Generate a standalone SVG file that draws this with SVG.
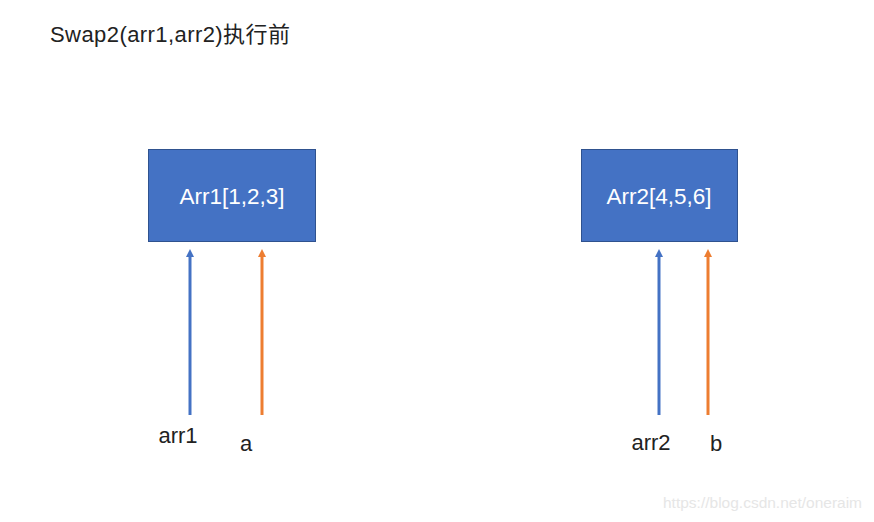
<svg xmlns="http://www.w3.org/2000/svg" width="874" height="522" viewBox="0 0 874 522">
<style>
.box{fill:#4472C4;stroke:#2F528F;stroke-width:1}
.bt{font-family:"Liberation Sans","Noto Sans CJK SC",sans-serif;font-size:22.5px;fill:#fff;text-anchor:middle}
.lbl{font-family:"Liberation Sans","Noto Sans CJK SC",sans-serif;font-size:22px;fill:#222;text-anchor:middle}
.blue{stroke:#4472C4;stroke-width:3;fill:none}
.orange{stroke:#ED7D31;stroke-width:3;fill:none}
</style>
<defs>
<marker id="ab" markerWidth="8" markerHeight="8" refX="4" refY="4" orient="auto" markerUnits="userSpaceOnUse"><path d="M0,0 L8,4 L0,8 Z" fill="#4472C4"/></marker>
<marker id="ao" markerWidth="8" markerHeight="8" refX="4" refY="4" orient="auto" markerUnits="userSpaceOnUse"><path d="M0,0 L8,4 L0,8 Z" fill="#ED7D31"/></marker>
</defs>
<rect width="874" height="522" fill="#fff"/>
<text x="50" y="42" font-family="'Liberation Sans','Noto Sans CJK SC',sans-serif" font-size="22" fill="#222" textLength="240">Swap2(arr1,arr2)执行前</text>
<g id="node-arr1">
<rect class="box" x="148.5" y="149.5" width="167" height="92"/>
<text class="bt" x="232" y="204">Arr1[1,2,3]</text>
</g>
<g id="node-arr2">
<rect class="box" x="581.5" y="149.5" width="156" height="92"/>
<text class="bt" x="659" y="204">Arr2[4,5,6]</text>
</g>
<g id="connectors">
<line class="blue" x1="190" y1="415" x2="190" y2="253" marker-end="url(#ab)"/>
<line class="orange" x1="262" y1="415" x2="262" y2="253" marker-end="url(#ao)"/>
<line class="blue" x1="659" y1="415" x2="659" y2="253" marker-end="url(#ab)"/>
<line class="orange" x1="708" y1="415" x2="708" y2="253" marker-end="url(#ao)"/>
</g>
<g id="labels">
<text class="lbl" x="178" y="443">arr1</text>
<text class="lbl" x="246" y="451">a</text>
<text class="lbl" x="651" y="450">arr2</text>
<text class="lbl" x="716" y="451">b</text>
</g>
<text x="663" y="508" font-family="'Liberation Sans',sans-serif" font-size="15.5" fill="#e6e6e6">https://blog.csdn.net/oneraim</text>
</svg>
